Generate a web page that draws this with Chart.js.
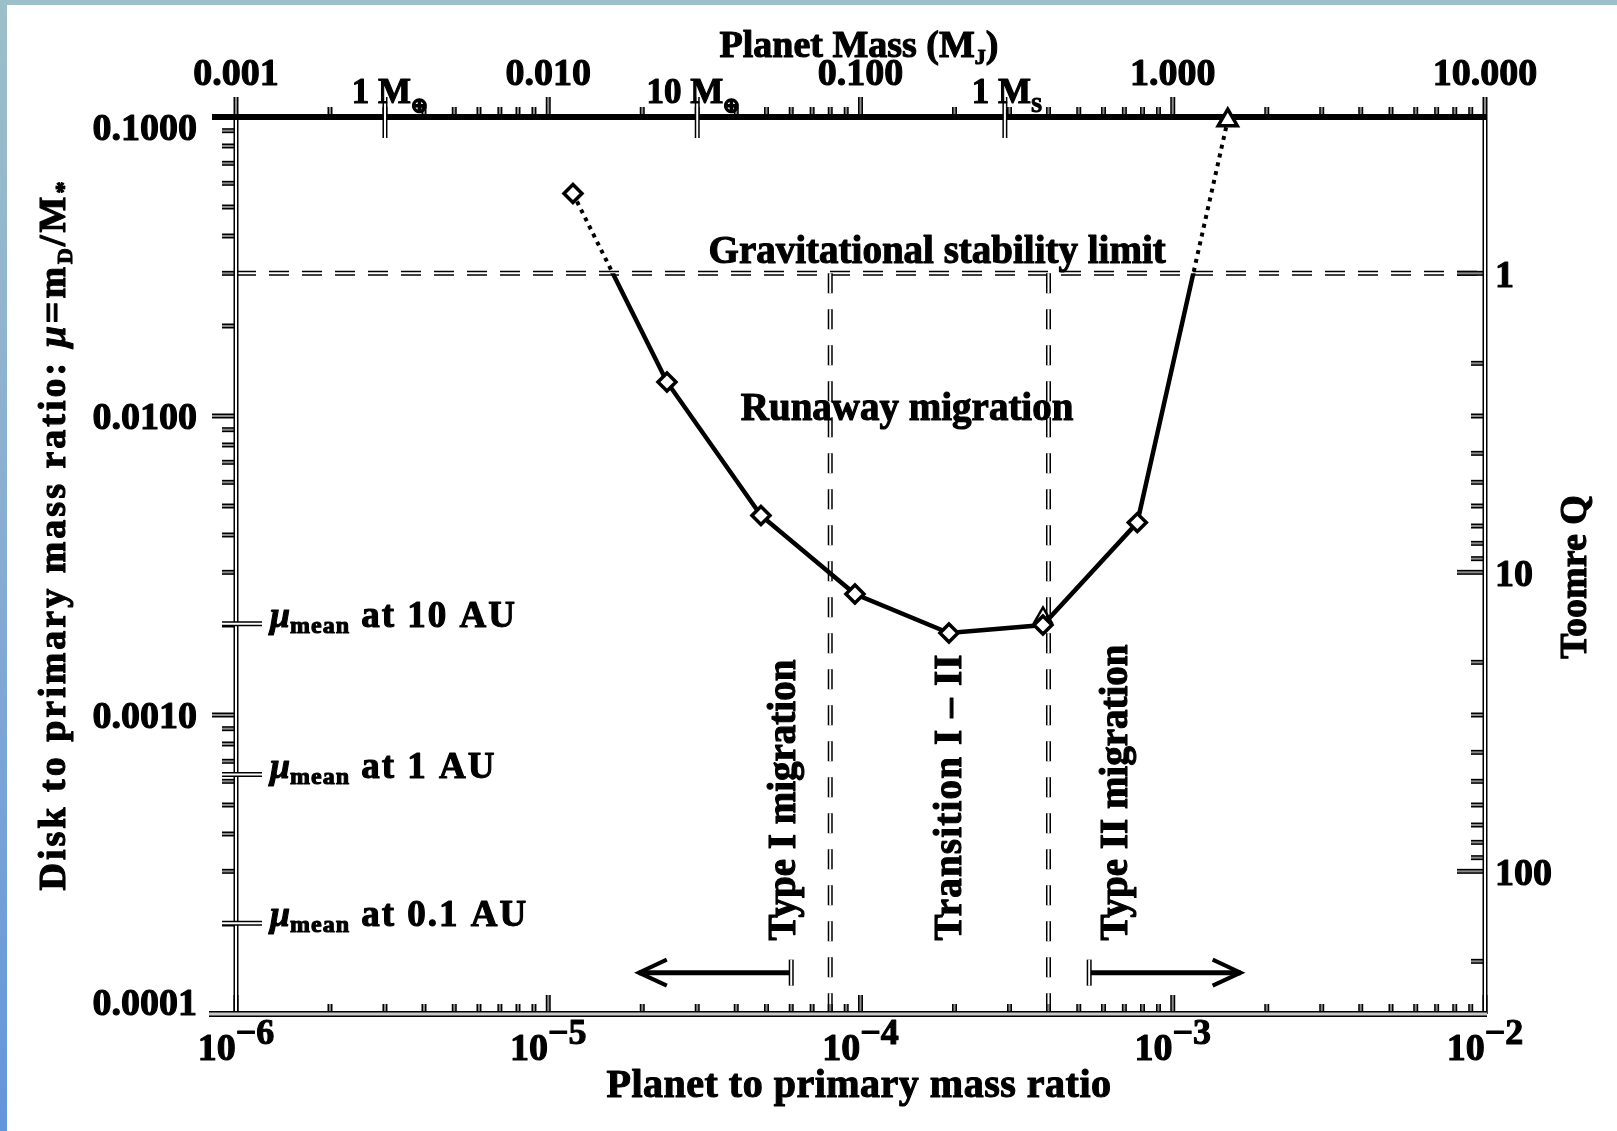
<!DOCTYPE html>
<html>
<head>
<meta charset="utf-8">
<title>Disk mass and planet mass: migration regimes</title>
<script src="https://cdn.jsdelivr.net/npm/chart.js@4.4.1/dist/chart.umd.min.js"></script>
<style>
  html, body { margin: 0; padding: 0; background: #fff; }
  body { position: relative; width: 1617px; height: 1131px; overflow: hidden; }
  #band-top { position: absolute; left: 0; top: 0; width: 1617px; height: 5px; background: #9dbfc9; }
  #band-left { position: absolute; left: 0; top: 0; width: 7px; height: 1131px; background: linear-gradient(#9dbfc9, #86acd2 50%, #6496dc); }
  #chart { position: absolute; left: 0; top: 0; }
</style>
</head>
<body>
<div id="band-top"></div>
<div id="band-left"></div>
<canvas id="chart" width="1617" height="1131"></canvas>
<script>
// values
const planetRatio = [1.2e-5, 2.4e-5, 4.8e-5, 9.6e-5, 1.92e-4, 3.84e-4, 7.7e-4, 1.5e-3];
const diskRatio   = [0.0555, 0.0130, 0.00465, 0.00254, 0.00188, 0.00200, 0.00440, 0.0976];
const pointShape  = ['rectRot', 'rectRot', 'rectRot', 'rectRot', 'rectRot', 'rectRot', 'rectRot', 'triangle'];
const triRatio = [3.84e-4];
const triDisk  = [0.00212];

const stabilityLimit = 0.03;          // Toomre Q = 1
const regimeEdges = [8.0e-5, 4.0e-4];

const muTicks = [0.1, 0.01, 0.001, 0.0001];
const muTickLabels = ['0.1000', '0.0100', '0.0010', '0.0001'];
const ratioTicks = [1e-6, 1e-5, 1e-4, 1e-3, 1e-2];
const ratioTickExp = ['−6', '−5', '−4', '−3', '−2'];
const massTicks = [0.001, 0.01, 0.1, 1, 10];
const massTickLabels = ['0.001', '0.010', '0.100', '1.000', '10.000'];
const toomreTicks = [1, 10, 100];
const toomreTickLabels = ['1', '10', '100'];

const refPlanetRatio = [3.0e-6, 3.0e-5, 2.9e-4];
const refPlanetNum = ['1', '10', '1'];
const refPlanetSub = ['⊕', '⊕', 'S'];

const muMean = [0.00202, 0.000632, 0.000201];
const muMeanAt = ['10 AU', '1 AU', '0.1 AU'];

const regimeNames = ['Type I migration', 'Transition I – II', 'Type II migration'];

const pts = planetRatio.map((q, i) => ({ x: q, y: diskRatio[i] }));
const triPts = triRatio.map((q, i) => ({ x: q, y: triDisk[i] }));

// drawing helpers
const FACE = '"Liberation Serif", "Times New Roman", serif';
const f = (px, style) => (style || 'bold') + ' ' + px + 'px ' + FACE;

function seg(ctx, x1, y1, x2, y2) {
  ctx.beginPath(); ctx.moveTo(x1, y1); ctx.lineTo(x2, y2); ctx.stroke();
}
// outlined stroke like the scanned original
function hollow(ctx, x1, y1, x2, y2, w, fill, dash) {
  ctx.save();
  ctx.lineCap = 'butt';
  ctx.setLineDash(dash || []);
  ctx.strokeStyle = '#000'; ctx.lineWidth = w; seg(ctx, x1, y1, x2, y2);
  ctx.strokeStyle = fill; ctx.lineWidth = w - 3; seg(ctx, x1, y1, x2, y2);
  ctx.restore();
}
// text pieces drawn one after another (sub/superscripts), a bit heavier than the font
function rich(ctx, parts, x, y, align, rot) {
  ctx.save();
  ctx.translate(x, y);
  if (rot) ctx.rotate(rot);
  ctx.textAlign = 'left'; ctx.textBaseline = 'alphabetic';
  ctx.fillStyle = '#000'; ctx.strokeStyle = '#000'; ctx.lineWidth = 1.1; ctx.lineJoin = 'round';
  let w = 0;
  parts.forEach(p => {
    ctx.font = p.font; ctx.letterSpacing = (p.ls || 0) + 'px';
    p.w = ctx.measureText(p.t).width; w += p.w;
  });
  let cx = align === 'center' ? -w / 2 : (align === 'right' ? -w : 0);
  parts.forEach(p => {
    ctx.font = p.font; ctx.letterSpacing = (p.ls || 0) + 'px';
    ctx.fillText(p.t, cx, p.dy || 0);
    ctx.strokeText(p.t, cx, p.dy || 0);
    cx += p.w;
  });
  ctx.restore();
}
function logSteps(min, max) {
  const out = [];
  for (let e = Math.floor(Math.log10(min)); e <= Math.ceil(Math.log10(max)); e++) {
    for (let k = 1; k < 10; k++) {
      const v = k * Math.pow(10, e);
      if (v >= min * 0.999 && v <= max * 1.001) out.push({ v: v, major: k === 1 });
    }
  }
  return out;
}

// solid below the stability limit, dotted above it
const limitClip = {
  id: 'limitClip',
  beforeDatasetDraw(chart, args) {
    if (args.index < 2) return;
    const { ctx, chartArea: a } = chart;
    const yLim = chart.scales.y.getPixelForValue(stabilityLimit);
    ctx.save();
    ctx.beginPath();
    if (args.index === 2) ctx.rect(a.left, 0, a.right - a.left, yLim);
    else ctx.rect(a.left, yLim, a.right - a.left, chart.height - yLim);
    ctx.clip();
  },
  afterDatasetDraw(chart, args) {
    if (args.index >= 2) chart.ctx.restore();
  }
};

const figure = {
  id: 'figure',
  beforeDatasetsDraw(chart) {
    const { ctx, chartArea: a, scales } = chart;
    const X = v => scales.x.getPixelForValue(v);
    const Y = v => scales.y.getPixelForValue(v);
    const XM = v => scales.mj.getPixelForValue(v);
    const YQ = v => scales.toomre.getPixelForValue(v);
    const L = a.left, R = a.right, T = a.top, B = a.bottom;
    const tick = '#8a8a8a';
    ctx.save();

    // stability limit and regime boundaries
    const yLim = Y(stabilityLimit);
    hollow(ctx, L, yLim, R, yLim, 5, '#fff', [20, 13]);
    regimeEdges.forEach(q => hollow(ctx, X(q), yLim, X(q), B, 5, '#fff', [20, 16]));

    // tick marks
    logSteps(scales.y.min, scales.y.max).forEach(t => {
      const y = Y(t.v); hollow(ctx, L - (t.major ? 24 : 14), y, L, y, 5, tick);
    });
    logSteps(toomreTicks[0], 2 * toomreTicks[2]).forEach(t => {
      const y = YQ(t.v); hollow(ctx, R - (t.major ? 28 : 14), y, R, y, 5, tick);
    });
    logSteps(scales.mj.min, scales.mj.max).forEach(t => {
      const x = XM(t.v); hollow(ctx, x, T - (t.major ? 20 : 10), x, T, 5, tick);
    });
    logSteps(scales.x.min, scales.x.max).forEach(t => {
      const x = X(t.v); hollow(ctx, x, B - (t.major ? 19 : 10), x, B, 5, tick);
    });

    // frame
    hollow(ctx, L, T, L, B, 5, '#fff');
    hollow(ctx, R, T, R, B, 5, '#fff');
    hollow(ctx, L - 27, B, R + 2, B, 6, '#c8c8c8');
    ctx.fillStyle = '#000';
    ctx.fillRect(L - 24, T - 3, R - L + 26, 6);
    refPlanetRatio.forEach(q => { const x = X(q); hollow(ctx, x, T - 20, x, T + 21, 5, '#fff'); });
    muMean.forEach(m => { const y = Y(m); hollow(ctx, L - 14, y, L + 26, y, 5, '#fff'); });

    // tick labels
    muTicks.forEach((v, i) => {
      const yb = Math.min(Math.max(Y(v) + 12.5, T + 23), B + 1);
      rich(ctx, [{ t: muTickLabels[i], font: f(38) }], L - 39, yb, 'right');
    });
    massTicks.forEach((v, i) => rich(ctx, [{ t: massTickLabels[i], font: f(38) }], XM(v), T - 32, 'center'));
    toomreTicks.forEach((v, i) => rich(ctx, [{ t: toomreTickLabels[i], font: f(38) }], R + 10, YQ(v) + 14, 'left'));
    ratioTicks.forEach((v, i) => {
      rich(ctx, [{ t: '10', font: f(38) }, { t: ratioTickExp[i], font: f(36), dy: -16 }], X(v), B + 46, 'center');
    });
    refPlanetRatio.forEach((q, i) => {
      const x = X(q) - 7;
      rich(ctx, [{ t: refPlanetNum[i] + ' ', font: f(35) }], x, T - 14, 'right');
      rich(ctx, [{ t: 'M', font: f(35) }, { t: refPlanetSub[i], font: f(20), dy: 9 }], x, T - 14, 'left');
    });
    muMean.forEach((m, i) => {
      rich(ctx, [
        { t: 'μ', font: f(36, 'italic bold') },
        { t: 'mean', font: f(24), dy: 6, ls: 1 },
        { t: ' at ' + muMeanAt[i], font: f(37), ls: 2 }
      ], L + 34, Y(m) + 3, 'left');
    });

    // axis titles
    rich(ctx, [{ t: 'Planet Mass (M', font: f(38) }, { t: 'J', font: f(22), dy: 7 }, { t: ')', font: f(38) }], 859, 57, 'center');
    rich(ctx, [{ t: 'Planet to primary mass ratio', font: f(40), ls: 0.5 }], 859, 1097, 'center');
    rich(ctx, [
      { t: 'Disk to primary mass ratio: ', font: f(38), ls: 3 },
      { t: 'μ', font: f(38, 'italic bold'), ls: 3 },
      { t: '=m', font: f(38), ls: 3 },
      { t: 'D', font: f(22), dy: 7, ls: 2 },
      { t: '/M', font: f(38), ls: 3 },
      { t: '*', font: f(24), dy: 6 }
    ], 65, 536, 'center', -Math.PI / 2);
    rich(ctx, [{ t: 'Toomre Q', font: f(38) }], 1586, 577, 'center', -Math.PI / 2);

    // region annotations
    rich(ctx, [{ t: 'Gravitational stability limit', font: f(39) }], X(1.76e-4), Y(0.0324), 'center');
    rich(ctx, [{ t: 'Runaway migration', font: f(39) }], X(1.41e-4), Y(0.00972), 'center');
    const regimeAt = [6.17e-5, 2.10e-4, 7.14e-4];
    const regimeLs = [0, 1.2, 0];
    regimeNames.forEach((name, i) => {
      rich(ctx, [{ t: name, font: f(39), ls: regimeLs[i] }], X(regimeAt[i]), Y(1.76e-4), 'left', -Math.PI / 2);
    });

    // arrows
    const arrowFrom = [6.0e-5, 5.4e-4];
    const arrowTo = [1.95e-5, 1.65e-3];
    const ya = Y(1.375e-4);
    arrowFrom.forEach((q, i) => {
      const x0 = X(q), x1 = X(arrowTo[i]), dir = Math.sign(x1 - x0);
      ctx.strokeStyle = '#000';
      ctx.lineWidth = 5;
      seg(ctx, x0, ya, x1, ya);
      ctx.lineWidth = 4;
      ctx.beginPath();
      ctx.moveTo(x1 - dir * 28, ya - 13); ctx.lineTo(x1, ya); ctx.lineTo(x1 - dir * 28, ya + 13);
      ctx.stroke();
      hollow(ctx, x0, ya - 13, x0, ya + 13, 5, '#fff');
    });

    ctx.restore();
  }
};

new Chart(document.getElementById('chart'), {
  type: 'scatter',
  data: {
    datasets: [
      {
        label: 'models',
        data: pts,
        showLine: false,
        pointStyle: pointShape,
        pointRadius: [9, 9, 9, 9, 9, 9, 9, 11],
        pointBorderColor: '#000',
        pointBackgroundColor: '#fff',
        pointBorderWidth: 3.5,
        clip: false
      },
      {
        label: 'triangle',
        data: triPts,
        showLine: false,
        pointStyle: 'triangle',
        pointRadius: 10,
        pointBorderColor: '#000',
        pointBackgroundColor: 'rgba(0,0,0,0)',
        pointBorderWidth: 2.5,
        clip: false
      },
      {
        label: 'unstable disk',
        data: pts,
        showLine: true,
        borderColor: '#000',
        borderWidth: 4,
        borderDash: [4, 5],
        pointRadius: 0
      },
      {
        label: 'stable disk',
        data: pts,
        showLine: true,
        borderColor: '#000',
        borderWidth: 4.5,
        pointRadius: 0
      }
    ]
  },
  options: {
    responsive: false,
    animation: false,
    events: [],
    layout: { padding: { left: 236, right: 132, top: 117, bottom: 117 } },
    plugins: { legend: { display: false }, tooltip: { enabled: false } },
    scales: {
      x: { type: 'logarithmic', min: ratioTicks[0], max: ratioTicks[4], display: false },
      y: { type: 'logarithmic', min: muTicks[3], max: muTicks[0], display: false },
      mj: { type: 'logarithmic', axis: 'x', min: massTicks[0], max: massTicks[4], display: false },
      toomre: {
        type: 'logarithmic', axis: 'y', reverse: true, display: false,
        min: stabilityLimit / muTicks[0], max: stabilityLimit / muTicks[3]
      }
    }
  },
  plugins: [limitClip, figure]
});
</script>
</body>
</html>
